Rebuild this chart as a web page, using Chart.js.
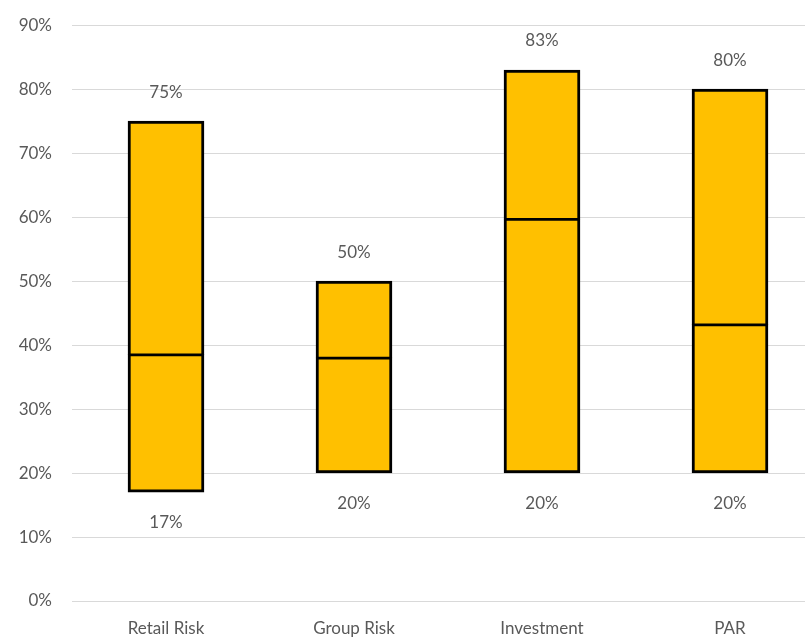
<!DOCTYPE html>
<html>
<head>
<meta charset="utf-8">
<script src="https://cdn.jsdelivr.net/npm/chart.js@4/dist/chart.umd.min.js"></script>
<style>
  html, body { margin: 0; padding: 0; background: #ffffff; }
  #frame { width: 805px; height: 637px; overflow: hidden; position: relative; }
  #chart { display: block; margin-top: -5px; }
</style>
</head>
<body>
<div id="frame"><canvas id="chart" width="830" height="642"></canvas></div>
<script>
// Business lines and their range of values (low / mid / high, in %)
const categories = ['Retail Risk', 'Group Risk', 'Investment', 'PAR'];
const lowValues  = [17, 20, 20, 20];
const midValues  = [38.5, 38, 59.7, 43.2];
const highValues = [75, 50, 83, 80];
const yTicks     = [0, 10, 20, 30, 40, 50, 60, 70, 80, 90];

const fill = '#FFC000';
const edge = '#000000';
const textGrey = '#595959';
const fontFamily = 'Lato, "Open Sans", "Liberation Sans", sans-serif';

// Writes the high value above each bar and the low value below it
const rangeLabels = {
  id: 'rangeLabels',
  afterDatasetsDraw(chart) {
    const { ctx, scales: { x, y } } = chart;
    ctx.save();
    ctx.font = '17px ' + fontFamily;
    ctx.fillStyle = textGrey;
    ctx.textAlign = 'center';
    ctx.textBaseline = 'middle';
    categories.forEach((c, i) => {
      const cx = x.getPixelForValue(i);
      ctx.fillText(highValues[i] + '%', cx, y.getPixelForValue(highValues[i]) - 29);
      ctx.fillText(lowValues[i] + '%', cx, y.getPixelForValue(lowValues[i]) + 30);
    });
    ctx.restore();
  }
};

new Chart(document.getElementById('chart'), {
  type: 'bar',
  data: {
    labels: categories,
    datasets: [
      {
        label: 'Lower',
        data: categories.map((c, i) => [lowValues[i], midValues[i]]),
        backgroundColor: fill,
        borderColor: edge,
        borderWidth: { top: 2, bottom: 3, left: 3, right: 3 },
        borderSkipped: false,
        grouped: false,
        barThickness: 76
      },
      {
        label: 'Upper',
        data: categories.map((c, i) => [midValues[i], highValues[i]]),
        backgroundColor: fill,
        borderColor: edge,
        borderWidth: { top: 3, bottom: 1.5, left: 3, right: 3 },
        borderSkipped: false,
        grouped: false,
        barThickness: 76
      }
    ]
  },
  options: {
    responsive: false,
    animation: false,
    devicePixelRatio: 1,
    layout: { padding: { top: 20, right: 6, bottom: 0, left: 0 } },
    plugins: {
      legend: { display: false },
      tooltip: { enabled: false }
    },
    scales: {
      x: {
        grid: { display: false, drawTicks: false },
        border: { display: false },
        ticks: {
          color: textGrey,
          padding: 17,
          font: { family: '"Liberation Sans Narrow", ' + fontFamily, size: 17 }
        },
        afterFit(scale) { scale.height = 36; }
      },
      y: {
        min: yTicks[0],
        max: yTicks[yTicks.length - 1],
        grid: { color: '#d9d9d9', lineWidth: 1, drawTicks: false },
        border: { display: false },
        afterBuildTicks(scale) { scale.ticks = yTicks.map(v => ({ value: v })); },
        ticks: {
          color: textGrey,
          padding: 20,
          font: { family: fontFamily, size: 17 },
          callback: v => v + '%'
        },
        afterFit(scale) { scale.width = 72; }
      }
    }
  },
  plugins: [rangeLabels]
});
</script>
</body>
</html>
